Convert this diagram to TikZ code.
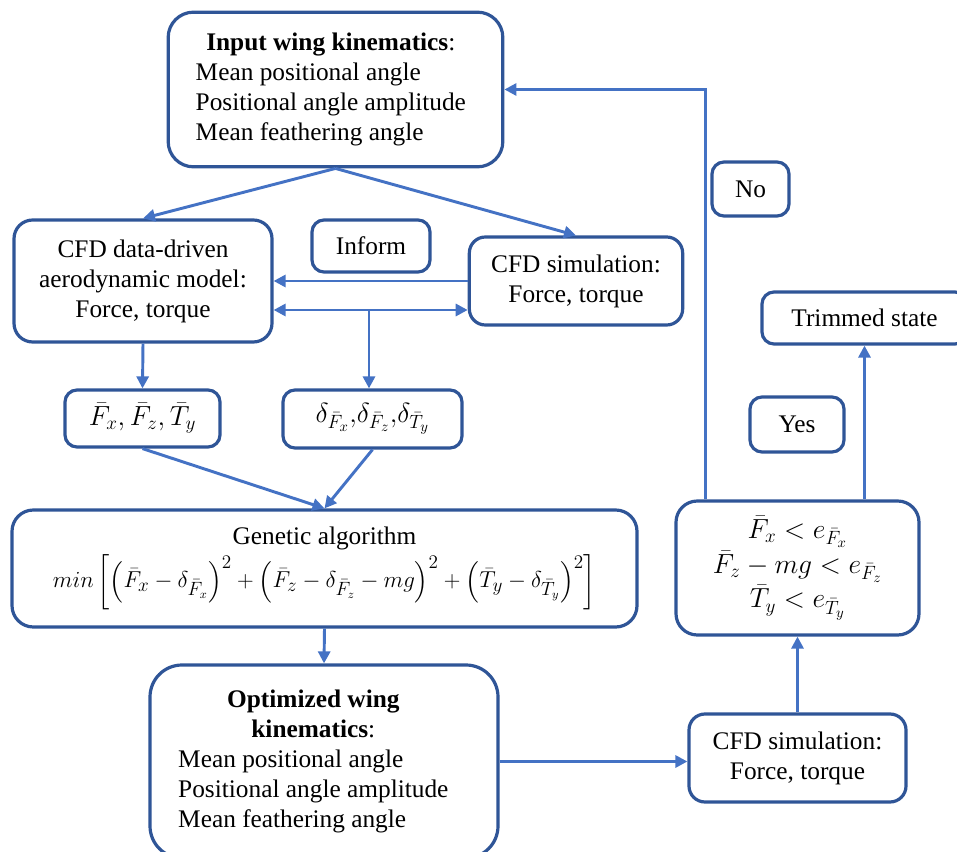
\documentclass[tikz,border=0pt]{standalone}
\usepackage{amsmath}
\usepackage{fontspec}
\setmainfont{Liberation Serif}
\usepackage{tikz}
\usetikzlibrary{arrows.meta,calc}

\definecolor{boxline}{RGB}{47,85,151}
\definecolor{arrline}{RGB}{68,114,196}

\begin{document}
\begin{tikzpicture}[x=0.75pt,y=-0.75pt,
		blk/.style={draw=boxline,line width=2.4pt,rounded corners=9pt,inner sep=0pt,
			font=\fontsize{19}{22.5}\selectfont,align=center},
		arr/.style={draw=arrline,line width=2.2pt,-{Triangle[length=9pt,width=9pt]}},
		darr/.style={draw=arrline,line width=2.2pt,{Triangle[length=9pt,width=9pt]}-{Triangle[length=9pt,width=9pt]}}]
		\useasboundingbox (0,0) rectangle (957,852);

		% Input and model
		\node[blk,rounded corners=19pt,minimum width=251pt,minimum height=116pt] (inp) at (335.5,89.5)
			{\begin{tabular}{@{}l@{}}\multicolumn{1}{@{}c@{}}{\textbf{Input wing kinematics}:}\\
			Mean positional angle\\ Positional angle amplitude\\ Mean feathering angle\end{tabular}\hspace{7pt}};
		\node[blk,rounded corners=14pt,minimum width=193.5pt,minimum height=91.5pt] (cfdm) at (143,281)
			{CFD data-driven\\ aerodynamic model:\\ Force, torque};
		\node[blk,minimum width=88.5pt,minimum height=39pt] (inf) at (371,246) {Inform};
		\node[blk,rounded corners=12pt,minimum width=160pt,minimum height=66pt] (sim1) at (576,281)
			{CFD simulation:\\ Force, torque};

		% Averages and deviations
		\node[blk,font=\fontsize{21}{25}\selectfont,minimum width=116.25pt,minimum height=42.75pt] (fx) at (142.5,418.5)
			{$\bar{F}_x, \bar{F}_z, \bar{T}_y$};
		\node[blk,font=\fontsize{21}{25}\selectfont,minimum width=134.25pt,minimum height=43.5pt] (dlt) at (372.5,419)
			{$\delta_{\bar{F}_x}{,}\delta_{\bar{F}_z}{,}\delta_{\bar{T}_y}$};

		% Optimisation
		\node[blk,rounded corners=16pt,minimum width=468.75pt,minimum height=87.75pt] (gen) at (324.5,568.5)
			{Genetic algorithm\\[2pt]
			$min\left[\left(\bar{F}_x-\delta_{\bar{F}_x}\right)^2+\left(\bar{F}_z-\delta_{\bar{F}_z}-mg\right)^2+\left(\bar{T}_y-\delta_{\bar{T}_y}\right)^2\right]$};
		\node[blk,rounded corners=24pt,minimum width=261pt,minimum height=144.75pt] (opt) at (324,761.5)
			{\begin{tabular}{@{}l@{}}\multicolumn{1}{@{}c@{}}{\textbf{Optimized wing}}\\
			\multicolumn{1}{@{}c@{}}{\textbf{kinematics}:}\\
			Mean positional angle\\ Positional angle amplitude\\ Mean feathering angle\end{tabular}\hspace{16pt}};

		% Check
		\node[blk,rounded corners=12pt,minimum width=162.75pt,minimum height=66pt] (sim2) at (797.5,758)
			{CFD simulation:\\ Force, torque};
		\node[blk,rounded corners=16pt,font=\fontsize{21}{26}\selectfont,minimum width=182.25pt,minimum height=100.5pt] (cond) at (797.5,568)
			{$\bar{F}_x < e_{\bar{F}_x}$\\ $\bar{F}_z - mg < e_{\bar{F}_z}$\\ $\bar{T}_y < e_{\bar{T}_y}$};
		\node[blk,minimum width=153.75pt,minimum height=39pt] (trim) at (864.5,318) {Trimmed state};
		\node[blk,minimum width=70.5pt,minimum height=41.25pt] (yes) at (797,424.5) {Yes};
		\node[blk,minimum width=57.75pt,minimum height=40.5pt] (no) at (750.5,189) {No};

		% Connectors
		\coordinate (mid) at (369,310);
		\draw[arr] (inp.south) -- (cfdm.north);
		\draw[arr] (inp.south) -- (sim1.north);
		\draw[arr] (sim1.west) -- (sim1.west -| cfdm.east);
		\draw[darr] (mid -| cfdm.east) -- (mid -| sim1.west);
		\draw[arr] (mid) -- (mid |- dlt.north);
		\draw[arr] (cfdm.south) -- (fx.north);
		\draw[arr] (fx.south) -- (gen.north);
		\draw[arr] (dlt.south) -- (gen.north);
		\draw[arr] (gen.south) -- (opt.north);
		\draw[arr] (opt.east) -- (opt.east -| sim2.west);
		\draw[arr] (sim2.north) -- (cond.south);
		\draw[arr] ($(cond.north west)+(31,0)$) |- (inp.east);
		\draw[arr] (cond.north -| trim.south) -- (trim.south);
	\end{tikzpicture}
\end{document}
